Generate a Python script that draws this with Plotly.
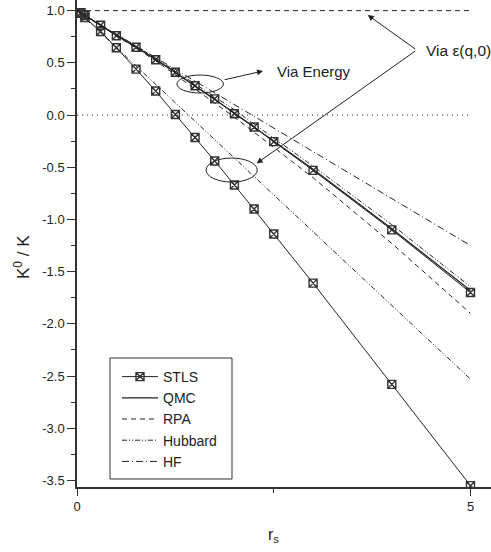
import plotly.graph_objects as go

# STLS compressibility, two routes (markers on every computed point)
rs_stls = [0.05, 0.1, 0.3, 0.5, 0.75, 1.0, 1.25, 1.5, 1.75, 2.0, 2.25, 2.5, 3.0, 4.0, 5.0]
stls_energy = [0.98, 0.955, 0.86, 0.76, 0.65, 0.53, 0.41, 0.28, 0.155, 0.012, -0.115, -0.255, -0.53, -1.10, -1.70]
stls_eps = [0.975, 0.935, 0.80, 0.645, 0.44, 0.23, 0.005, -0.215, -0.44, -0.67, -0.90, -1.14, -1.61, -2.58, -3.55]

# Reference curves
rs_line = [0.0, 1.0, 2.0, 3.0, 4.0, 5.0]
qmc_energy = [1.0, 0.535, 0.02, -0.52, -1.09, -1.68]
rpa_energy = [1.0, 0.52, -0.02, -0.60, -1.23, -1.90]
rpa_eps = [1.0, 1.0, 1.0, 1.0, 1.0, 1.0]
hubbard_energy = [1.0, 0.545, 0.05, -0.49, -1.05, -1.645]
hubbard_eps = [1.0, 0.295, -0.41, -1.12, -1.82, -2.53]
hf_energy = [1.0, 0.55, 0.10, -0.35, -0.80, -1.25]

y_tick_vals = [1.0, 0.5, 0.0, -0.5, -1.0, -1.5, -2.0, -2.5, -3.0, -3.5]
y_tick_text = ["1.0", "0.5", "0.0", "-0.5", "-1.0", "-1.5", "-2.0", "-2.5", "-3.0", "-3.5"]
x_tick_vals = [0, 5]
x_tick_text = ["0", "5"]

FONT = "Arial, Liberation Sans, sans-serif"
INK = "#222222"

DASH = "5px,4px"
DASH_DOT_DOT = "5px,2px,1px,2px,1px,2px"
DASH_DOT = "7px,3px,1px,3px"

W, H = 491, 552
ML, MB = 77, 65
PW, PH = W - ML, H - MB


def px_x(p):
    """horizontal pixel -> paper fraction"""
    return (p - ML) / PW


def px_y(p):
    """vertical pixel (from top) -> paper fraction"""
    return (PH - p) / PH


fig = go.Figure()

marker = dict(symbol="square-x-open", size=8, color="#333333", line=dict(width=1.4))

fig.add_trace(go.Scatter(x=rs_stls, y=stls_energy, mode="lines+markers", name="STLS",
                         line=dict(color=INK, width=1), marker=marker, legendrank=1))
fig.add_trace(go.Scatter(x=rs_stls, y=stls_eps, mode="lines+markers", name="STLS",
                         line=dict(color=INK, width=1), marker=marker, showlegend=False))
fig.add_trace(go.Scatter(x=rs_line, y=qmc_energy, mode="lines", name="QMC",
                         line=dict(color=INK, width=1.2), legendrank=2))
fig.add_trace(go.Scatter(x=rs_line, y=rpa_energy, mode="lines", name="RPA",
                         line=dict(color=INK, width=1, dash=DASH), legendrank=3))
fig.add_trace(go.Scatter(x=rs_line, y=rpa_eps, mode="lines", name="RPA",
                         line=dict(color=INK, width=1, dash=DASH), showlegend=False))
fig.add_trace(go.Scatter(x=rs_line, y=hubbard_energy, mode="lines", name="Hubbard",
                         line=dict(color=INK, width=1, dash=DASH_DOT_DOT), legendrank=4))
fig.add_trace(go.Scatter(x=rs_line, y=hubbard_eps, mode="lines", name="Hubbard",
                         line=dict(color=INK, width=1, dash=DASH_DOT_DOT), showlegend=False))
fig.add_trace(go.Scatter(x=rs_line, y=hf_energy, mode="lines", name="HF",
                         line=dict(color=INK, width=1, dash=DASH_DOT), legendrank=5))

# dotted zero line
fig.add_shape(type="line", x0=0, x1=5, y0=0, y1=0, xref="x", yref="y",
              line=dict(color=INK, width=1, dash="1px,4px"))

# ellipses marking the two families of curves
fig.add_shape(type="circle", x0=1.27, x1=1.86, y0=0.211, y1=0.383, xref="x", yref="y",
              line=dict(color=INK, width=1))
fig.add_shape(type="circle", x0=1.64, x1=2.29, y0=-0.642, y1=-0.412, xref="x", yref="y",
              line=dict(color=INK, width=1))

# legend frame
fig.add_shape(type="rect", xref="paper", yref="paper",
              x0=px_x(110), x1=px_x(232), y0=px_y(479), y1=px_y(358),
              line=dict(color="#333333", width=1), fillcolor="rgba(0,0,0,0)", layer="above")

arrow = dict(showarrow=True, arrowhead=2, arrowsize=1.2, arrowwidth=1, arrowcolor=INK,
             axref="x", ayref="y", xref="x", yref="y", text="")
fig.add_annotation(x=2.364, y=0.422, ax=1.856, ay=0.335, **arrow)
fig.add_annotation(x=3.694, y=0.958, ax=4.316, ay=0.623, **arrow)
fig.add_annotation(x=2.283, y=-0.463, ax=4.316, ay=0.623, **arrow)

fig.add_annotation(x=2.52, y=0.421, xref="x", yref="y", text="Via Energy", showarrow=False,
                   xanchor="left", yanchor="middle", font=dict(family=FONT, size=15, color=INK))
fig.add_annotation(x=4.41, y=0.623, xref="x", yref="y", text="Via ε(q,0)", showarrow=False,
                   xanchor="left", yanchor="middle", font=dict(family=FONT, size=15.5, color=INK))

# axis titles
fig.add_annotation(x=px_x(22), y=px_y(257), xref="paper", yref="paper", text="K<sup>0</sup> / K",
                   textangle=-90, showarrow=False, xanchor="center", yanchor="middle",
                   font=dict(family=FONT, size=17, color=INK))
fig.add_annotation(x=px_x(273), y=px_y(524), xref="paper", yref="paper", text="r<sub>s</sub>",
                   showarrow=False, xanchor="center", yanchor="top",
                   font=dict(family=FONT, size=16, color=INK))

fig.update_layout(
    width=W, height=H,
    margin=dict(l=ML, r=0, t=0, b=MB, pad=0),
    plot_bgcolor="white", paper_bgcolor="white",
    font=dict(family=FONT, size=13, color=INK),
    legend=dict(x=px_x(117), y=px_y(361), xanchor="left", yanchor="top",
                borderwidth=0, bgcolor="white",
                font=dict(family=FONT, size=14, color=INK), itemwidth=36,
                tracegroupgap=0),
    xaxis=dict(range=[0, PW / 78.7], showline=True, linecolor="#333333", linewidth=1.5,
               showgrid=False, zeroline=False, ticks="outside", ticklen=7, tickwidth=1.2,
               tickcolor="#333333", tickmode="array", tickvals=x_tick_vals, ticktext=x_tick_text,
               tickfont=dict(size=13),
               minor=dict(tickmode="array", tickvals=[2.5], ticks="outside", ticklen=4,
                          tickcolor="#333333", tickwidth=1)),
    yaxis=dict(range=[-3.563, 1.102], showline=True, linecolor="#333333", linewidth=1.5,
               showgrid=False, zeroline=False, ticks="outside", ticklen=8, tickwidth=1.2,
               tickcolor="#333333", tickmode="array", tickvals=y_tick_vals, ticktext=y_tick_text,
               tickfont=dict(size=13),
               minor=dict(tickmode="array",
                          tickvals=[0.75, 0.25, -0.25, -0.75, -1.25, -1.75, -2.25, -2.75, -3.25],
                          ticks="outside", ticklen=4, tickcolor="#333333", tickwidth=1)),
)

fig.write_html("out.html")
